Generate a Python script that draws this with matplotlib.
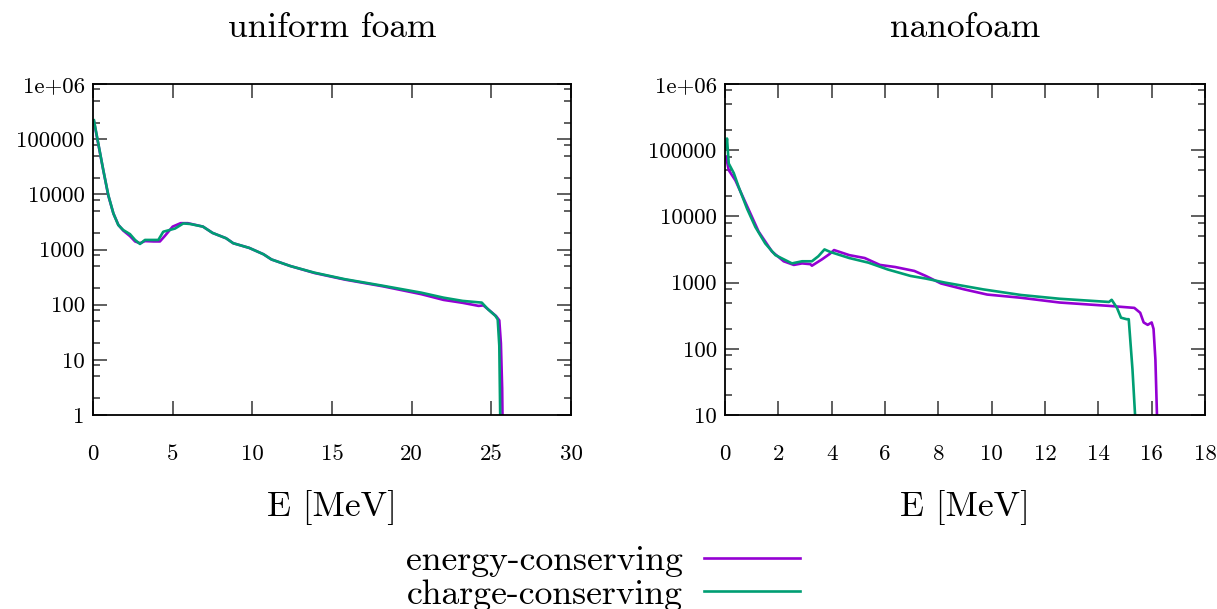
import numpy as np
import matplotlib
matplotlib.use("Agg")
import matplotlib.pyplot as plt
from matplotlib.ticker import FixedLocator, FixedFormatter, NullFormatter

plt.rcParams['font.family'] = ['cmr10', 'DejaVu Serif']
plt.rcParams['axes.unicode_minus'] = False
plt.rcParams['mathtext.fontset'] = 'cm'

PURPLE = '#9400d3'
GREEN = '#009e73'

# uniform foam
uf_e_energy = [0.06, 0.33, 0.65, 0.96, 1.28, 1.59, 1.9, 2.32, 2.64, 2.95, 3.26, 3.8,
               4.2, 4.5, 5.0, 5.5, 5.95, 6.9, 7.5, 8.35, 8.8, 9.8, 10.7, 11.2, 12.4,
               13.9, 15.8, 18.2, 20.6, 22.0, 23.2, 24.2, 24.5, 24.85, 25.3, 25.5,
               25.6, 25.68, 25.72]
uf_n_energy = [2.1e5, 8.2e4, 2.7e4, 9.5e3, 4.5e3, 2.8e3, 2.2e3, 1.75e3, 1.4e3, 1.3e3,
               1.42e3, 1.4e3, 1.4e3, 1.75e3, 2.6e3, 3.0e3, 3.0e3, 2.6e3, 2.0e3, 1.6e3,
               1.3e3, 1.07e3, 820, 660, 500, 375, 285, 215, 155, 122, 108, 95, 97,
               80, 62, 52, 20, 3, 0.3]
uf_e_charge = [0.06, 0.33, 0.65, 0.96, 1.28, 1.59, 1.9, 2.32, 2.64, 2.95, 3.26, 4.1,
               4.41, 5.15, 5.67, 6.1, 6.9, 7.5, 8.35, 8.8, 9.8, 10.7, 11.2, 12.4,
               13.9, 15.8, 18.2, 20.6, 22.0, 23.2, 24.4, 24.8, 25.25, 25.4, 25.5,
               25.58]
uf_n_charge = [2.2e5, 8.4e4, 2.7e4, 9.7e3, 4.5e3, 2.77e3, 2.25e3, 1.9e3, 1.49e3,
               1.26e3, 1.49e3, 1.49e3, 2.1e3, 2.4e3, 2.97e3, 2.9e3, 2.6e3, 2.0e3,
               1.6e3, 1.3e3, 1.07e3, 820, 660, 500, 380, 290, 220, 165, 134, 117,
               109, 82, 63, 54, 18, 0.3]

# nanofoam
nf_e_energy = [0.04, 0.14, 0.39, 0.89, 1.26, 1.76, 2.2, 2.58, 2.89, 3.2, 3.26, 3.64,
               3.92, 4.09, 4.66, 5.24, 5.81, 6.38, 7.1, 7.53, 8.1, 8.97, 9.83, 11.1,
               12.55, 14.4, 15.35, 15.57, 15.7, 15.85, 16.0, 16.07, 16.14, 16.22]
nf_n_energy = [8e4, 5e4, 3.5e4, 1.26e4, 5.9e3, 2.95e3, 2.1e3, 1.85e3, 1.95e3, 1.9e3,
               1.8e3, 2.25e3, 2.7e3, 3.1e3, 2.6e3, 2.35e3, 1.85e3, 1.72e3, 1.5e3,
               1.26e3, 970, 790, 660, 590, 500, 445, 415, 350, 250, 230, 250, 200,
               69, 5]
nf_e_charge = [0.04, 0.075, 0.14, 0.33, 0.51, 0.83, 1.14, 1.51, 1.89, 2.51, 2.89,
               3.26, 3.5, 3.73, 3.95, 4.66, 5.38, 6.1, 6.96, 7.53, 8.25, 9.68, 11.1,
               12.55, 14.4, 14.5, 14.7, 14.85, 15.06, 15.14, 15.28, 15.42]
nf_n_charge = [1.1e5, 1.5e5, 6.3e4, 4.5e4, 2.8e4, 1.3e4, 6.9e3, 3.9e3, 2.6e3, 1.95e3,
               2.1e3, 2.1e3, 2.5e3, 3.17e3, 2.9e3, 2.35e3, 2.0e3, 1.58e3, 1.26e3,
               1.15e3, 1.0e3, 790, 650, 570, 510, 550, 415, 295, 280, 280, 49, 5]

fig = plt.figure(figsize=(12.17, 6.09), dpi=100)
ax1 = fig.add_axes([93 / 1217, 1 - 415 / 609, 478 / 1217, 331 / 609])
ax2 = fig.add_axes([725 / 1217, 1 - 415 / 609, 480 / 1217, 331 / 609])


def style(ax, ymin, ymax, xmax, xstep, title):
    ax.set_yscale('log')
    ax.set_xlim(0, xmax)
    ax.set_ylim(ymin, ymax)
    decades = np.arange(int(np.log10(ymin)), int(np.log10(ymax)) + 1)
    majors = [10.0 ** d for d in decades]
    labels = ['1e+06' if d == 6 else str(10 ** d) for d in decades]
    minors = [m * 10.0 ** d for d in decades[:-1] for m in (2, 5, 8)]
    ax.yaxis.set_major_locator(FixedLocator(majors))
    ax.yaxis.set_major_formatter(FixedFormatter(labels))
    ax.yaxis.set_minor_locator(FixedLocator(minors))
    ax.yaxis.set_minor_formatter(NullFormatter())
    ax.set_xticks(np.arange(0, xmax + 0.1, xstep))
    ax.tick_params(which='both', direction='in', top=True, right=True,
                   color='#444444', width=1.2, labelsize=16.5, pad=6)
    ax.tick_params(which='major', length=10)
    ax.tick_params(which='minor', length=5)
    ax.tick_params(axis='x', pad=21)
    for s in ax.spines.values():
        s.set_linewidth(1.3)
    ax.set_xlabel('E [MeV]', fontsize=25.5, labelpad=19)
    ax.set_title(title, fontsize=25.5, pad=34)


style(ax1, 1, 1e6, 30, 5, 'uniform foam')
style(ax2, 10, 1e6, 18, 2, 'nanofoam')

ax1.plot(uf_e_energy, uf_n_energy, color=PURPLE, lw=1.9)
ax1.plot(uf_e_charge, uf_n_charge, color=GREEN, lw=1.9)
l1, = ax2.plot(nf_e_energy, nf_n_energy, color=PURPLE, lw=1.9, label='energy-conserving')
l2, = ax2.plot(nf_e_charge, nf_n_charge, color=GREEN, lw=1.9, label='charge-conserving')

fig.legend(handles=[l1, l2], loc='center', bbox_to_anchor=(603 / 1217, 1 - 578 / 609),
           frameon=False, markerfirst=False, fontsize=25.7, handlelength=2.7,
           handletextpad=0.6, labelspacing=0.05, borderpad=0)

fig.savefig('out.png', dpi=100)
